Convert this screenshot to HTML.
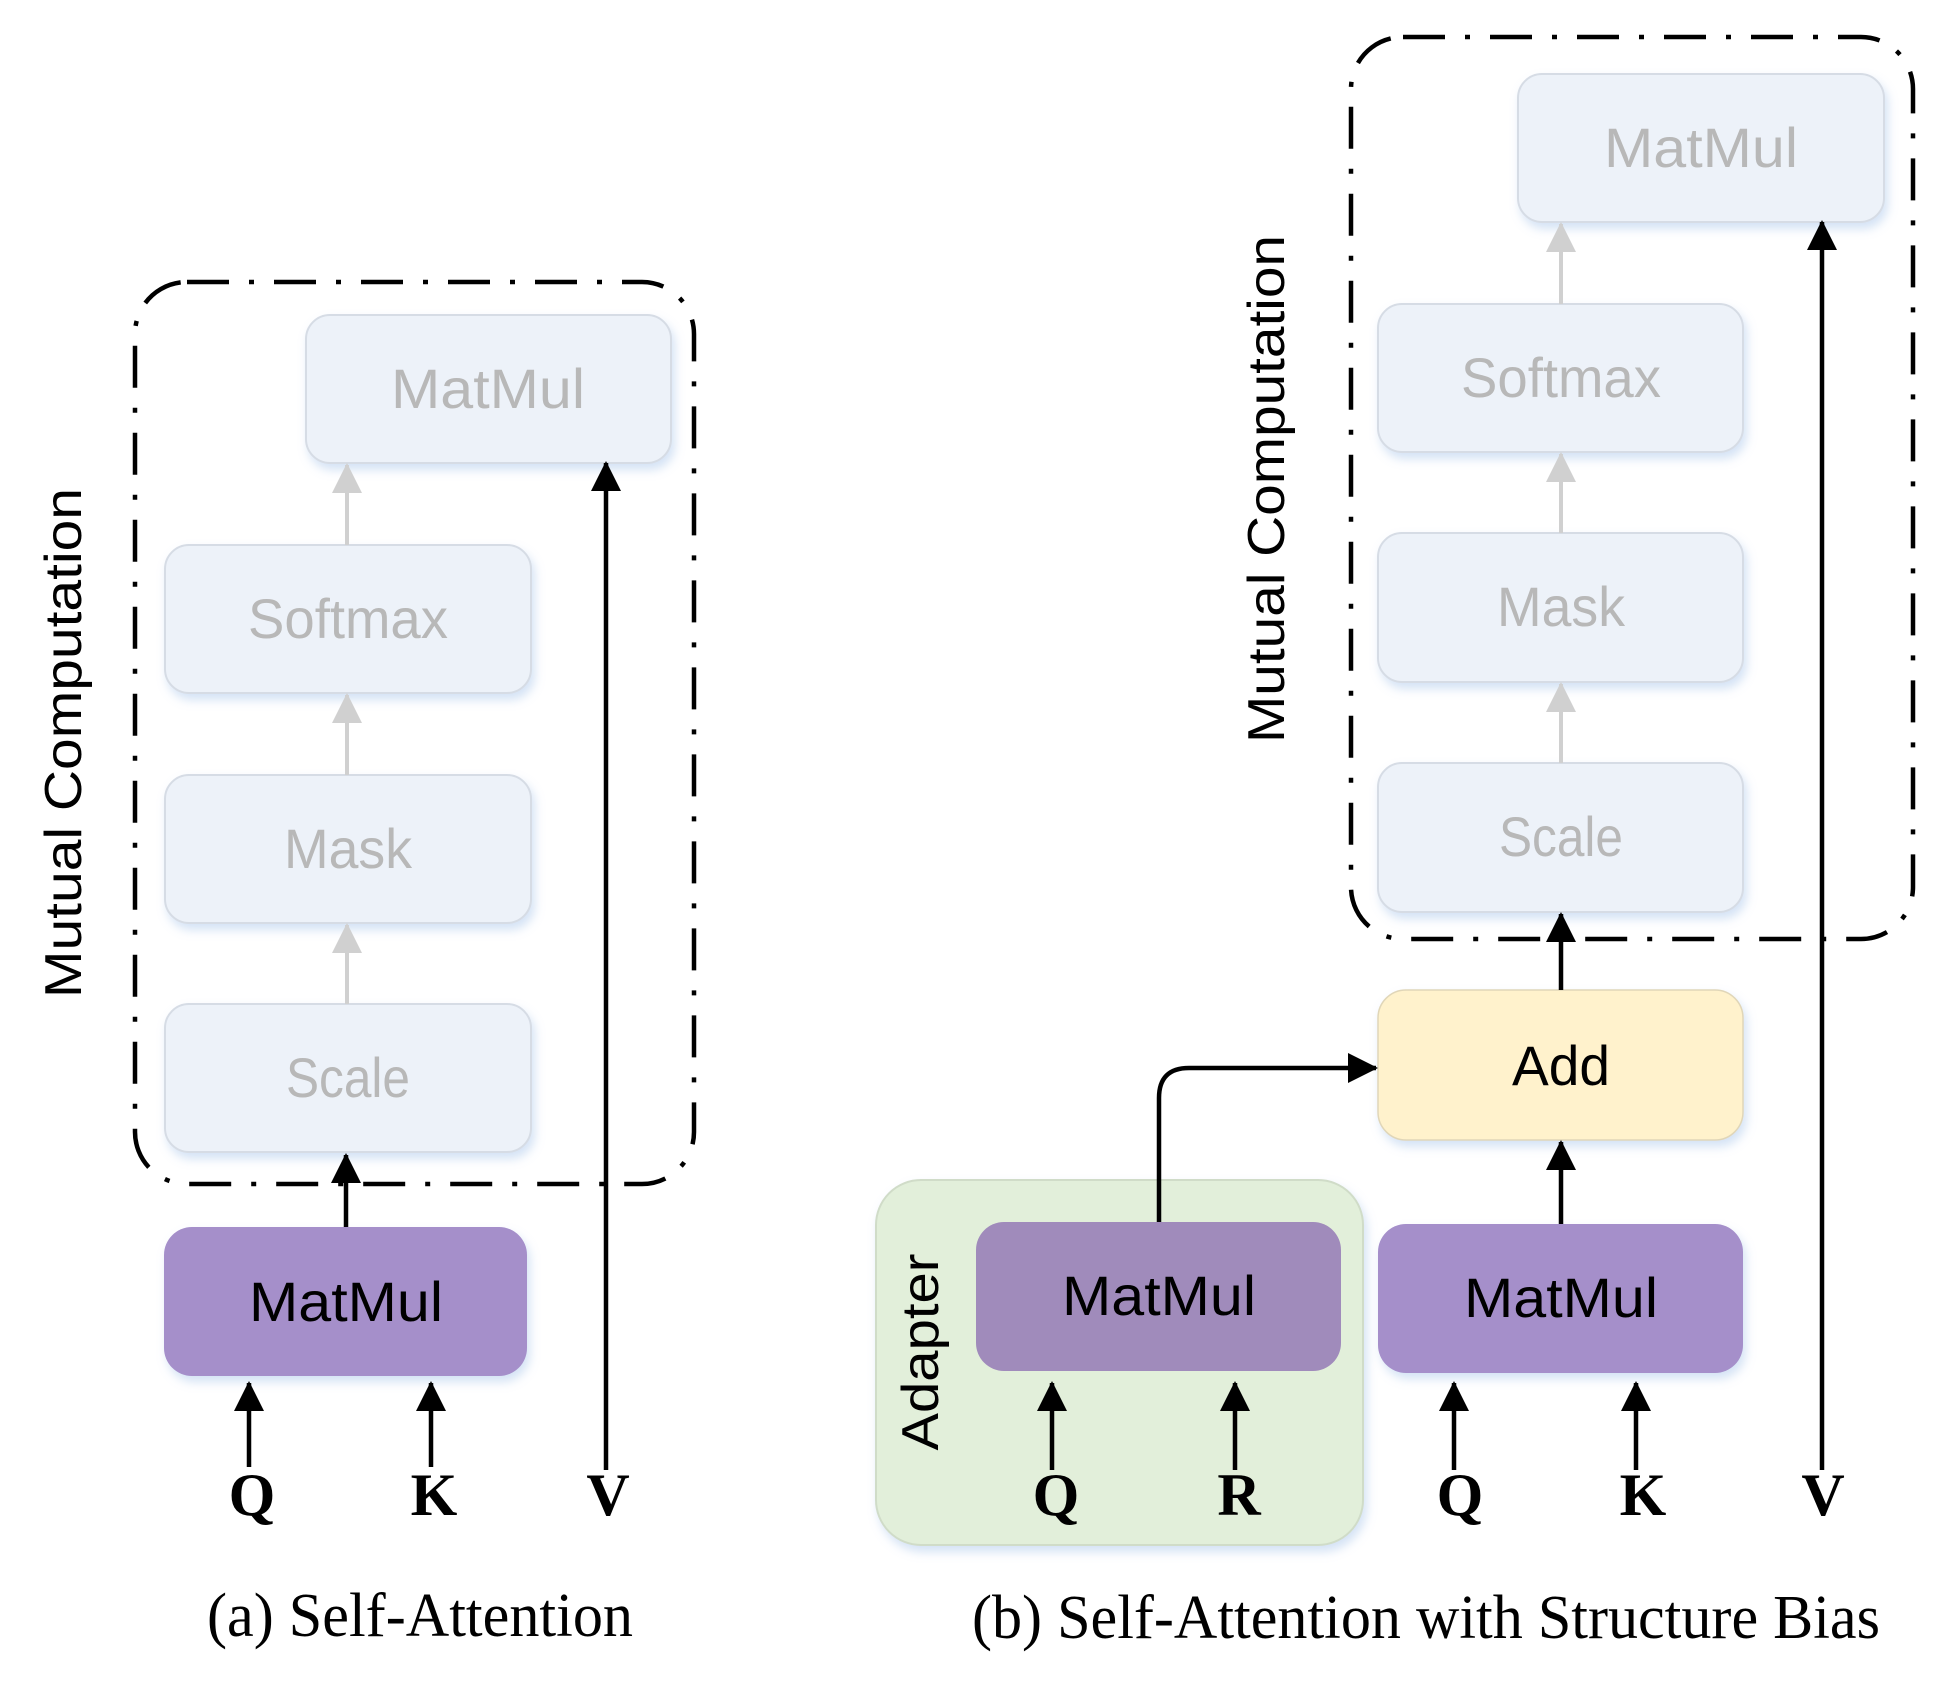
<!DOCTYPE html>
<html><head><meta charset="utf-8"><style>
html,body{margin:0;padding:0;background:#fff;}
svg{display:block;}
</style></head><body>
<svg width="1948" height="1686" viewBox="0 0 1948 1686" xmlns="http://www.w3.org/2000/svg">
<defs>
<filter id="sh" x="-10%" y="-10%" width="125%" height="135%">
<feDropShadow dx="3" dy="6" stdDeviation="5" flood-color="#9fbfe8" flood-opacity="0.45"/>
</filter>
<marker id="ah" markerWidth="30" markerHeight="30" viewBox="0 0 30 30" refX="28" refY="15" orient="auto" markerUnits="userSpaceOnUse">
<path d="M0,0 L30,15 L0,30 Z" fill="#000"/>
</marker>
<marker id="ag" markerWidth="30" markerHeight="30" viewBox="0 0 30 30" refX="28" refY="15" orient="auto" markerUnits="userSpaceOnUse">
<path d="M0,0 L30,15 L0,30 Z" fill="#d0d0d0"/>
</marker>
</defs>

<g font-family="Liberation Sans, sans-serif" text-anchor="middle">
<!-- ===== (a) ===== -->
<rect x="135" y="282" width="559" height="902" rx="52" fill="none" stroke="#000" stroke-width="4.5" stroke-dasharray="42 20 5 20"/>
<g filter="url(#sh)">
<rect x="306" y="315" width="365" height="148" rx="24" fill="#edf2f9" stroke="#d6dce5" stroke-width="2"/>
<rect x="165" y="545" width="366" height="148" rx="24" fill="#edf2f9" stroke="#d6dce5" stroke-width="2"/>
<rect x="165" y="775" width="366" height="148" rx="24" fill="#edf2f9" stroke="#d6dce5" stroke-width="2"/>
<rect x="165" y="1004" width="366" height="148" rx="24" fill="#edf2f9" stroke="#d6dce5" stroke-width="2"/>
<rect x="164" y="1227" width="363" height="149" rx="28" fill="#a58fca"/>
</g>
<g font-size="56" fill="#b8b8b8">
<text x="488" y="408" textLength="194" lengthAdjust="spacingAndGlyphs">MatMul</text>
<text x="348" y="638" textLength="200" lengthAdjust="spacingAndGlyphs">Softmax</text>
<text x="348" y="868" textLength="128" lengthAdjust="spacingAndGlyphs">Mask</text>
<text x="348" y="1097" textLength="124" lengthAdjust="spacingAndGlyphs">Scale</text>
</g>
<text x="346" y="1321" font-size="56" fill="#000" textLength="194" lengthAdjust="spacingAndGlyphs">MatMul</text>
<g stroke="#d0d0d0" stroke-width="4">
<line x1="347" y1="545" x2="347" y2="465" marker-end="url(#ag)"/>
<line x1="347" y1="775" x2="347" y2="695" marker-end="url(#ag)"/>
<line x1="347" y1="1004" x2="347" y2="925" marker-end="url(#ag)"/>
</g>
<g stroke="#000" stroke-width="4.5">
<line x1="346" y1="1227" x2="346" y2="1155" marker-end="url(#ah)"/>
<line x1="249" y1="1467" x2="249" y2="1383" marker-end="url(#ah)"/>
<line x1="431" y1="1467" x2="431" y2="1383" marker-end="url(#ah)"/>
<line x1="606" y1="1470" x2="606" y2="463" marker-end="url(#ah)"/>
</g>
<g font-family="Liberation Serif, serif" font-weight="bold" font-size="60" fill="#000">
<text x="252" y="1515">Q</text>
<text x="434" y="1515">K</text>
<text x="608" y="1515">V</text>
</g>
<text transform="translate(81,743) rotate(-90)" font-size="52" textLength="510" lengthAdjust="spacingAndGlyphs" fill="#000">Mutual Computation</text>
<text x="420" y="1636" font-family="Liberation Serif, serif" font-size="62" textLength="426" lengthAdjust="spacingAndGlyphs" fill="#000">(a) Self-Attention</text>

<!-- ===== (b) ===== -->
<g transform="translate(-8,0)">
<rect x="1359" y="37" width="562" height="902" rx="52" fill="none" stroke="#000" stroke-width="4.5" stroke-dasharray="42 20 5 20"/>
<g filter="url(#sh)">
<rect x="884" y="1180" width="487" height="365" rx="45" fill="#e2efda" stroke="#d0dcc8" stroke-width="2"/>
<rect x="1526" y="74" width="366" height="148" rx="24" fill="#edf2f9" stroke="#d6dce5" stroke-width="2"/>
<rect x="1386" y="304" width="365" height="148" rx="24" fill="#edf2f9" stroke="#d6dce5" stroke-width="2"/>
<rect x="1386" y="533" width="365" height="149" rx="24" fill="#edf2f9" stroke="#d6dce5" stroke-width="2"/>
<rect x="1386" y="763" width="365" height="149" rx="24" fill="#edf2f9" stroke="#d6dce5" stroke-width="2"/>
<rect x="1386" y="990" width="365" height="150" rx="28" fill="#fff2cc" stroke="#e0d6b8" stroke-width="1.5"/>
<rect x="1386" y="1224" width="365" height="149" rx="28" fill="#a58fca"/>
<rect x="984" y="1222" width="365" height="149" rx="28" fill="#a08bbb"/>
</g>
<g font-size="56" fill="#b8b8b8">
<text x="1709" y="167" textLength="194" lengthAdjust="spacingAndGlyphs">MatMul</text>
<text x="1569" y="397" textLength="200" lengthAdjust="spacingAndGlyphs">Softmax</text>
<text x="1569" y="626" textLength="128" lengthAdjust="spacingAndGlyphs">Mask</text>
<text x="1569" y="856" textLength="124" lengthAdjust="spacingAndGlyphs">Scale</text>
</g>
<g font-size="56" fill="#000">
<text x="1569" y="1085" textLength="98" lengthAdjust="spacingAndGlyphs">Add</text>
<text x="1569" y="1317" textLength="194" lengthAdjust="spacingAndGlyphs">MatMul</text>
<text x="1167" y="1315" textLength="194" lengthAdjust="spacingAndGlyphs">MatMul</text>
</g>
<g stroke="#d0d0d0" stroke-width="4">
<line x1="1569" y1="304" x2="1569" y2="224" marker-end="url(#ag)"/>
<line x1="1569" y1="533" x2="1569" y2="454" marker-end="url(#ag)"/>
<line x1="1569" y1="763" x2="1569" y2="684" marker-end="url(#ag)"/>
</g>
<g stroke="#000" stroke-width="4.5" fill="none">
<line x1="1569" y1="990" x2="1569" y2="914" marker-end="url(#ah)"/>
<line x1="1569" y1="1224" x2="1569" y2="1142" marker-end="url(#ah)"/>
<path d="M1167,1222 L1167,1098 Q1167,1068 1197,1068 L1384,1068" marker-end="url(#ah)"/>
<line x1="1060" y1="1470" x2="1060" y2="1383" marker-end="url(#ah)"/>
<line x1="1243" y1="1470" x2="1243" y2="1383" marker-end="url(#ah)"/>
<line x1="1462" y1="1470" x2="1462" y2="1383" marker-end="url(#ah)"/>
<line x1="1644" y1="1470" x2="1644" y2="1383" marker-end="url(#ah)"/>
<line x1="1830" y1="1470" x2="1830" y2="222" marker-end="url(#ah)"/>
</g>
<g font-family="Liberation Serif, serif" font-weight="bold" font-size="60" fill="#000">
<text x="1064" y="1515">Q</text>
<text x="1247" y="1515">R</text>
<text x="1468" y="1515">Q</text>
<text x="1651" y="1515">K</text>
<text x="1831" y="1515">V</text>
</g>
<text transform="translate(1292,489) rotate(-90)" font-size="52" textLength="508" lengthAdjust="spacingAndGlyphs" fill="#000">Mutual Computation</text>
<text transform="translate(946,1352) rotate(-90)" font-size="52" textLength="197" lengthAdjust="spacingAndGlyphs" fill="#000">Adapter</text>
<text x="1434" y="1638" font-family="Liberation Serif, serif" font-size="62" textLength="908" lengthAdjust="spacingAndGlyphs" fill="#000">(b) Self-Attention with Structure Bias</text>
</g>
</g>
</svg>
</body></html>
